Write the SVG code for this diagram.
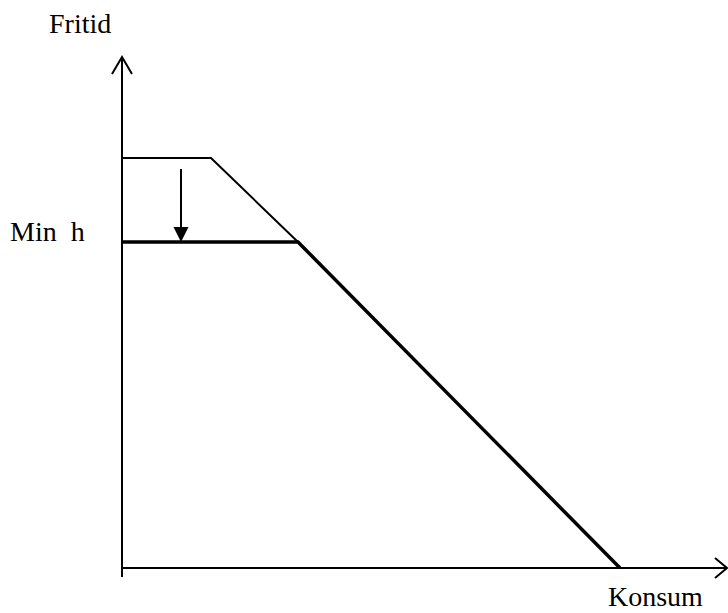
<svg xmlns="http://www.w3.org/2000/svg" width="728" height="613" viewBox="0 0 728 613">
<style>
.ax{stroke:#000;stroke-width:2;fill:none}
.thin{stroke:#000;stroke-width:2;fill:none}
.thick{stroke:#000;stroke-width:3.5;fill:none}
.lbl{font-family:"Liberation Serif","Times New Roman",serif;font-size:28px;fill:#000}
</style>
<rect width="728" height="613" fill="#fff"/>
<g id="axes">
<path class="ax" d="M122,577 V57"/>
<path class="ax" d="M112,74 L122,57 L132,74"/>
<path class="ax" d="M122,568 H727"/>
<path class="ax" d="M715,558 L727,568 L715,578"/>
</g>
<g id="connectors">
<path class="thin" d="M122,158 H211 L298,242"/>
<path class="thick" d="M122,242 H298 L620,568"/>
<path class="thin" d="M181,169 V230"/>
<polygon points="173.5,227 188.5,227 181,242" fill="#000"/>
</g>
<g id="labels">
<text class="lbl" x="49" y="33">Fritid</text>
<text class="lbl" x="10" y="241" xml:space="preserve">Min  h</text>
<text class="lbl" x="608" y="606">Konsum</text>
</g>
</svg>
